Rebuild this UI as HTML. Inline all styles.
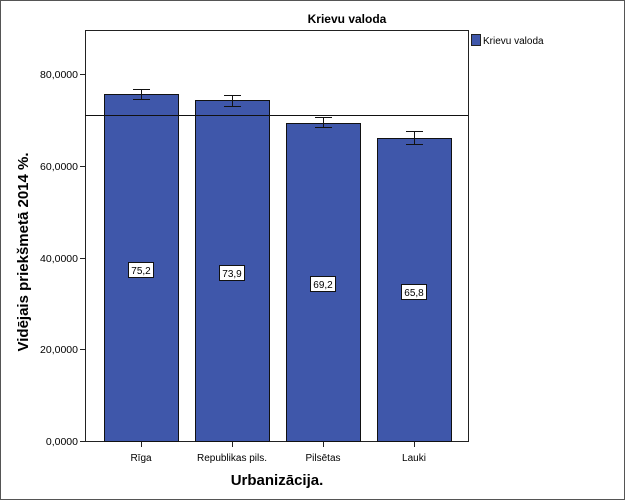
<!DOCTYPE html>
<html><head><meta charset="utf-8"><style>
html,body{margin:0;padding:0;background:#fff}
svg{display:block;font-family:"Liberation Sans",sans-serif}
</style></head><body>
<svg width="625" height="500" viewBox="0 0 625 500" xmlns="http://www.w3.org/2000/svg">
<rect x="0.5" y="0.5" width="624" height="499" fill="#fff" stroke="#555"/>
<text x="347" y="23" font-size="12" font-weight="bold" text-anchor="middle">Krievu valoda</text>
<rect x="85.5" y="30.5" width="383" height="411" fill="#fff" stroke="#222"/>
<rect x="471.5" y="34.5" width="9" height="11" fill="#3f57aa" stroke="#222"/>
<text x="483" y="44" font-size="10">Krievu valoda</text>
<g font-size="10.5" text-anchor="end">
<text x="78" y="78">80,0000</text>
<text x="78" y="170">60,0000</text>
<text x="78" y="262">40,0000</text>
<text x="78" y="353">20,0000</text>
<text x="78" y="445">0,0000</text>
</g>
<g stroke="#222">
<line x1="80" y1="74.5" x2="85" y2="74.5"/>
<line x1="80" y1="166.5" x2="85" y2="166.5"/>
<line x1="80" y1="258.5" x2="85" y2="258.5"/>
<line x1="80" y1="349.5" x2="85" y2="349.5"/>
<line x1="80" y1="441.5" x2="85" y2="441.5"/>
<line x1="141.5" y1="441" x2="141.5" y2="447"/>
<line x1="232.5" y1="441" x2="232.5" y2="447"/>
<line x1="323.5" y1="441" x2="323.5" y2="447"/>
<line x1="414.5" y1="441" x2="414.5" y2="447"/>
</g>
<g fill="#3f57aa" stroke="#111">
<rect x="104.5" y="94.5" width="74" height="347"/>
<rect x="195.5" y="100.5" width="74" height="341"/>
<rect x="286.5" y="123.5" width="74" height="318"/>
<rect x="377.5" y="138.5" width="74" height="303"/>
</g>
<line x1="85" y1="115.5" x2="468" y2="115.5" stroke="#111"/>
<g stroke="#111" fill="none">
<path d="M133 89.5h17M141.5 89.5v10M133 99.5h17"/>
<path d="M224 95.5h17M232.5 95.5v11M224 106.5h17"/>
<path d="M315 117.5h17M323.5 117.5v10M315 127.5h17"/>
<path d="M406 131.5h17M414.5 131.5v13M406 144.5h17"/>
</g>
<g font-size="10" text-anchor="middle">
<rect x="128.5" y="262.5" width="25" height="15" fill="#fff" stroke="#111"/>
<text x="141" y="274">75,2</text>
<rect x="219.5" y="265.5" width="25" height="15" fill="#fff" stroke="#111"/>
<text x="232" y="277">73,9</text>
<rect x="310.5" y="276.5" width="25" height="15" fill="#fff" stroke="#111"/>
<text x="323" y="288">69,2</text>
<rect x="401.5" y="284.5" width="25" height="15" fill="#fff" stroke="#111"/>
<text x="414" y="296">65,8</text>
<text x="141" y="461">Rīga</text>
<text x="232" y="461">Republikas pils.</text>
<text x="323" y="461">Pilsētas</text>
<text x="414" y="461">Lauki</text>
</g>
<text x="277" y="485" font-size="15" font-weight="bold" text-anchor="middle">Urbanizācija.</text>
<text transform="translate(28,252) rotate(-90)" font-size="15" font-weight="bold" text-anchor="middle">Vidējais priekšmetā 2014 %.</text>
</svg>
</body></html>
